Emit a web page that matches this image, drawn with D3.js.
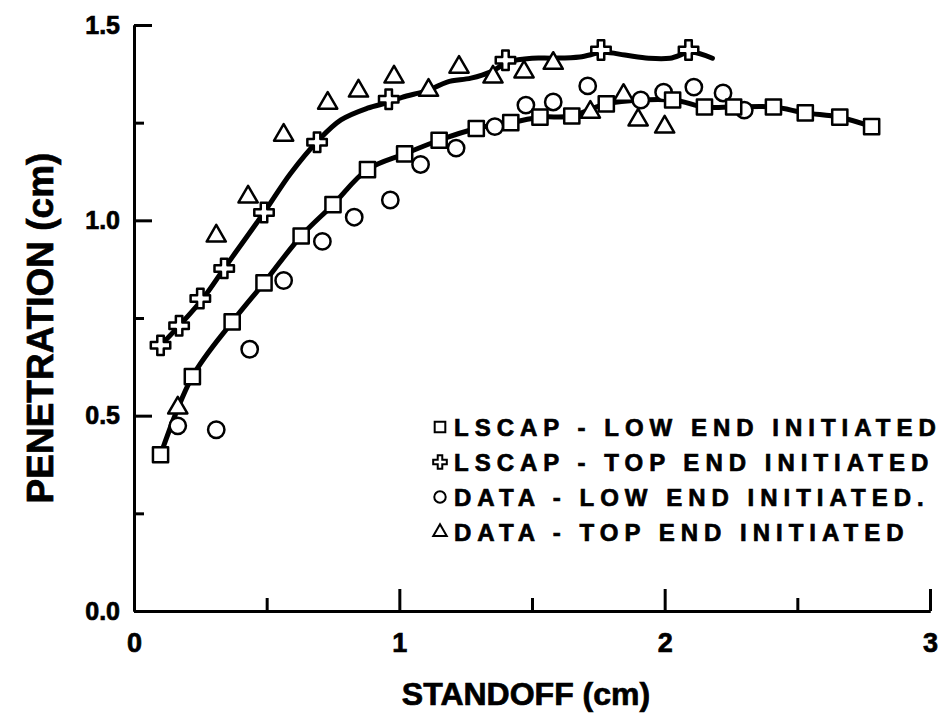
<!DOCTYPE html>
<html>
<head>
<meta charset="utf-8">
<script src="https://d3js.org/d3.v7.min.js"></script>
<style>
	body { margin: 0; background: #fff; }
	text { font-family: "Liberation Sans", Arial, Helvetica, sans-serif; font-weight: 700; fill: #000; stroke: #000; stroke-width: 0.7px; }
</style>
</head>
<body>
<div id="chart"></div>
<script>

// LSCAP - low end initiated (squares, curve runs through them)
let lscapLowX = [0.10, 0.22, 0.37, 0.49, 0.63, 0.75, 0.88, 1.02, 1.15, 1.29, 1.42, 1.53, 1.65, 1.78, 2.03, 2.15, 2.26, 2.41, 2.53, 2.66, 2.78];
let lscapLowY = [0.40, 0.60, 0.74, 0.84, 0.96, 1.04, 1.13, 1.17, 1.205, 1.235, 1.25, 1.264, 1.267, 1.298, 1.308, 1.29, 1.29, 1.29, 1.275, 1.264, 1.24];

// LSCAP - top end initiated (cross markers)
let lscapTopX = [0.10, 0.17, 0.25, 0.34, 0.49, 0.69, 0.96, 1.40, 1.76, 2.09];
let lscapTopY = [0.68, 0.73, 0.80, 0.877, 1.02, 1.20, 1.31, 1.41, 1.436, 1.436];

// the LSCAP top end curve
let lscapTopCurveX = [0.10, 0.17, 0.26, 0.34, 0.49, 0.59, 0.695, 0.78, 0.88, 0.96, 1.01, 1.11, 1.18, 1.27, 1.345, 1.41, 1.50, 1.58, 1.68, 1.77, 1.85, 1.94, 2.02, 2.10, 2.18];
let lscapTopCurveY = [0.68, 0.73, 0.80, 0.877, 1.02, 1.12, 1.205, 1.257, 1.287, 1.302, 1.315, 1.333, 1.354, 1.364, 1.38, 1.405, 1.415, 1.415, 1.418, 1.43, 1.423, 1.415, 1.415, 1.43, 1.415];

// measured data - low end initiated (circles)
let dataLowX = [0.165, 0.31, 0.436, 0.564, 0.71, 0.83, 0.966, 1.08, 1.214, 1.36, 1.477, 1.58, 1.71, 1.91, 1.996, 2.11, 2.22, 2.30];
let dataLowY = [0.474, 0.464, 0.67, 0.846, 0.946, 1.008, 1.052, 1.143, 1.185, 1.24, 1.295, 1.303, 1.344, 1.308, 1.328, 1.341, 1.326, 1.282];

// measured data - top end initiated (triangles)
let dataTopX = [0.165, 0.31, 0.43, 0.564, 0.73, 0.846, 0.98, 1.11, 1.225, 1.353, 1.47, 1.58, 1.72, 1.845, 1.90, 2.0];
let dataTopY = [0.52, 0.96, 1.06, 1.218, 1.30, 1.331, 1.367, 1.333, 1.392, 1.367, 1.38, 1.402, 1.277, 1.32, 1.257, 1.239];

let xTicks = [0, 1, 2, 3];
let xMinorTicks = [0.5, 1.5, 2.5];
let yTicks = [0, 0.5, 1.0, 1.5];
let yMinorTicks = [0.25, 0.75, 1.25];

let legendLabels = ["LSCAP - LOW END INITIATED", "LSCAP - TOP END INITIATED", "DATA - LOW END INITIATED.", "DATA - TOP END INITIATED"];
let legendShapes = ["square", "cross", "circle", "triangle"];


class PenetrationChart {

	constructor(parentElement){
		this.parentElement = parentElement;
		this.initVis();
	}

	initVis(){
		let vis = this;

		vis.margin = {top: 25, right: 14, bottom: 105, left: 134};
		vis.width = 944 - vis.margin.left - vis.margin.right;
		vis.height = 716 - vis.margin.top - vis.margin.bottom;

		vis.svg = d3.select("#" + vis.parentElement).append("svg")
			.attr("width", 944)
			.attr("height", 716)
			.append("g")
			.attr("transform", "translate(" + vis.margin.left + "," + vis.margin.top + ")");

		vis.x = d3.scaleLinear().domain([0, 3]).range([0, vis.width]);
		vis.y = d3.scaleLinear().domain([0, 1.5]).range([vis.height, 0]);

		// axes - ticks point inwards
		let xAxis = d3.axisBottom(vis.x).tickValues(xTicks).tickFormat(d3.format("d"))
			.tickSizeInner(-22).tickSizeOuter(0).tickPadding(21);
		let xMinor = d3.axisBottom(vis.x).tickValues(xMinorTicks).tickFormat("")
			.tickSizeInner(-13).tickSizeOuter(0);
		let yAxis = d3.axisLeft(vis.y).tickValues(yTicks).tickFormat(d3.format(".1f"))
			.tickSizeInner(-18).tickSizeOuter(0).tickPadding(14);
		let yMinor = d3.axisLeft(vis.y).tickValues(yMinorTicks).tickFormat("")
			.tickSizeInner(-10).tickSizeOuter(0);

		vis.svg.append("g").attr("class", "x-minor")
			.attr("transform", "translate(0," + vis.height + ")").call(xMinor);
		vis.svg.append("g").attr("class", "x-axis")
			.attr("transform", "translate(0," + vis.height + ")").call(xAxis);
		vis.svg.append("g").attr("class", "y-minor").call(yMinor);
		vis.svg.append("g").attr("class", "y-axis").call(yAxis);

		vis.svg.selectAll(".domain, .tick line")
			.attr("stroke", "#000").attr("stroke-width", 3);
		vis.svg.selectAll(".x-axis text").attr("font-size", 27).attr("dy", "0.75em");
		vis.svg.selectAll(".y-axis text").attr("font-size", 25);

		// axis titles
		vis.svg.append("text")
			.attr("x", 526 - vis.margin.left)
			.attr("y", vis.height + 94)
			.attr("text-anchor", "middle")
			.attr("font-size", 32)
			.text("STANDOFF (cm)");

		vis.svg.append("text")
			.attr("transform", "translate(" + (53 - vis.margin.left) + "," + (328 - vis.margin.top) + ") rotate(-90)")
			.attr("text-anchor", "middle")
			.attr("font-size", 37)
			.text("PENETRATION (cm)");

		// curves
		let line = d3.line()
			.x(d => vis.x(d[0]))
			.y(d => vis.y(d[1]))
			.curve(d3.curveCatmullRom.alpha(0.5));

		vis.svg.append("path")
			.datum(d3.zip(lscapLowX, lscapLowY))
			.attr("fill", "none").attr("stroke", "#000").attr("stroke-width", 5)
			.attr("stroke-linecap", "round")
			.attr("d", line);

		vis.svg.append("path")
			.datum(d3.zip(lscapTopCurveX, lscapTopCurveY))
			.attr("fill", "none").attr("stroke", "#000").attr("stroke-width", 5)
			.attr("stroke-linecap", "round")
			.attr("d", line);

		// markers
		vis.drawMarkers(d3.zip(dataTopX, dataTopY), "triangle", 1);
		vis.drawMarkers(d3.zip(dataLowX, dataLowY), "circle", 1);
		vis.drawMarkers(d3.zip(lscapLowX, lscapLowY), "square", 1);
		vis.drawMarkers(d3.zip(lscapTopX, lscapTopY), "cross", 1);

		// legend
		let legend = vis.svg.append("g")
			.attr("transform", "translate(" + (440 - vis.margin.left) + "," + (427 - vis.margin.top) + ")");

		legendLabels.forEach((label, i) => {
			legend.append("path")
				.attr("transform", "translate(0," + (i * 35) + ")")
				.attr("d", vis.symbolPath(legendShapes[i], 0.7))
				.attr("fill", "#fff").attr("stroke", "#000").attr("stroke-width", 2);
			legend.append("text")
				.attr("x", 14)
				.attr("y", i * 35)
				.attr("dy", "0.36em")
				.attr("font-size", 24)
				.attr("letter-spacing", 6)
				.text(label);
		});
	}

	symbolPath(shape, scale){
		let types = {square: d3.symbolSquare, cross: d3.symbolCross, circle: d3.symbolCircle, triangle: d3.symbolTriangle};
		let sizes = {square: 230, cross: 210, circle: 210, triangle: 160};
		return d3.symbol().type(types[shape]).size(sizes[shape] * scale * scale)();
	}

	drawMarkers(points, shape, scale){
		let vis = this;
		vis.svg.append("g").selectAll("path")
			.data(points)
			.enter().append("path")
			.attr("transform", d => "translate(" + vis.x(d[0]) + "," + vis.y(d[1]) + ")")
			.attr("d", vis.symbolPath(shape, scale))
			.attr("fill", "#fff")
			.attr("stroke", "#000")
			.attr("stroke-width", 2.5)
			.attr("stroke-linejoin", "round");
	}
}

new PenetrationChart("chart");

</script>
</body>
</html>
